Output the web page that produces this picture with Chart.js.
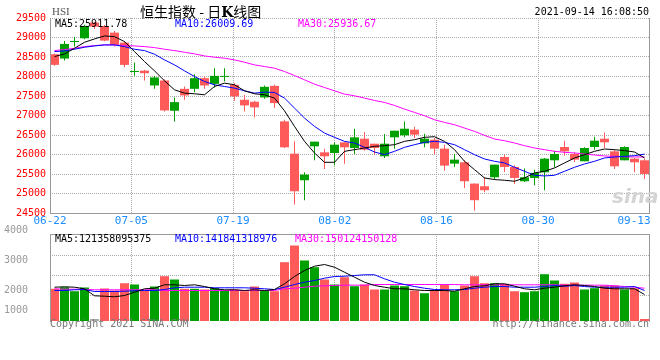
<!DOCTYPE html>
<html lang="zh-CN">
<head>
  <meta charset="UTF-8" />
  <title>恒生指数 - 日K线图</title>
  <script src="https://cdn.jsdelivr.net/npm/chart.js"></script>
  <style>
    body { margin: 0; background: #fff; }
    #wrap { position: relative; width: 660px; height: 360px; overflow: hidden;
            font-family: 'DejaVu Sans Mono', monospace; font-size: 10px; }
    canvas { position: absolute; left: 0; }
    #priceChart { top: 0; }
    #volChart { top: 220px; }
    .txt { position: absolute; white-space: nowrap; line-height: 12px; }
    #hsi { left: 52px; top: 5px; font: 11px 'Liberation Serif', serif; color: #555; }
    #title { left: 140px; top: 2px; font-size: 14px; line-height: 18px; color: #000;
             font-family: 'Noto Sans CJK SC', sans-serif; }
    #title b { font-family: 'DejaVu Serif', serif; }
    #time { right: 11px; top: 6px; color: #000; }
    .foot { top: 318px; color: #777; }
    #sina { left: 612px; top: 184px; font: italic bold 20px 'DejaVu Sans', sans-serif; color: #d4d4d4; }
  </style>
</head>
<body>
<div id="wrap">
  <canvas id="priceChart" width="660" height="232"></canvas>
  <canvas id="volChart" width="660" height="140"></canvas>
  <div class="txt" id="hsi">HSI</div>
  <div class="txt" id="title">恒生指数 - 日<b>K</b>线图</div>
  <div class="txt" id="time">2021-09-14 16:08:50</div>
  <div class="txt" id="sina">sina</div>
  <div class="txt" style="left:55px;top:18px;color:#000" id="pMa5"></div>
  <div class="txt" style="left:175px;top:18px;color:#0000ff" id="pMa10"></div>
  <div class="txt" style="left:298px;top:18px;color:#ff00ff" id="pMa30"></div>
  <div class="txt" style="left:55px;top:233px;color:#000" id="vMa5"></div>
  <div class="txt" style="left:175px;top:233px;color:#0000ff" id="vMa10"></div>
  <div class="txt" style="left:295px;top:233px;color:#ff00ff" id="vMa30"></div>
  <div class="txt foot" style="left:50px">Copyright 2021 SINA.COM</div>
  <div class="txt foot" style="right:11px">http://finance.sina.com.cn</div>
</div>

<script>
  // daily candles 06-22 .. 09-14 (60 trading days)
  const opens = [28571,28460,28885,28980,29381,29295,29125,28869,28115,28150,
    27770,27898,27122,27684,27684,27957,27812,27990,27787,27403,
    27352,27463,27760,26849,26022,25340,26210,26056,26039,26312,
    26167,26405,26277,25954,26440,26491,26636,26286,26380,26150,
    25766,25800,25254,25186,25416,25936,25680,25314,25399,25544,
    25851,26192,26013,25826,26192,26405,26081,25851,25894,25851];
  const closes = [28298,28835,28900,29295,29278,28920,28810,28298,28140,28085,
    27975,27130,27343,27514,27957,27770,28016,28005,27489,27258,
    27207,27735,27318,26184,25058,25485,26329,25954,26252,26184,
    26440,26124,26167,26277,26610,26661,26508,26405,26150,25714,
    25868,25314,24828,25084,25740,25680,25399,25416,25527,25894,
    26013,26081,25868,26167,26354,26312,25697,26192,25800,25502];
  const highs = [28588,28912,29014,29330,29400,29321,29167,28895,28358,28170,
    28016,27932,27463,27744,28059,28000,28213,28213,27830,27531,
    27378,27770,27787,26891,26337,25544,26329,26150,26312,26312,
    26661,26575,26277,26525,26610,26849,26712,26533,26422,26252,
    26013,25851,25254,25425,25740,25996,25723,25638,25612,25911,
    26099,26354,26056,26184,26456,26567,26124,26210,25911,25894];
  const lows = [28273,28409,28767,28955,29218,28903,28767,28238,28017,27900,
    27685,27105,26849,27403,27599,27684,27718,27872,27380,27105,
    26951,27429,27190,26167,24718,24829,25852,25630,25724,25766,
    26013,26099,25996,25911,26150,26440,26422,26184,26013,25587,
    25680,25144,24564,25033,25357,25552,25246,25297,25212,25084,
    25672,25970,25808,25826,26124,26167,25629,25851,25544,25374];

  const ma5 = [28511,28579,28724,28878,28963,29040,29022,28895,28639,28383,
    28145,27889,27659,27574,27557,27531,27744,27830,27787,27633,
    27557,27531,27446,27120,26721,26337,26039,25800,25800,26081,
    26124,26167,26210,26226,26252,26337,26380,26440,26456,26337,
    26124,25826,25612,25399,25357,25340,25314,25399,25527,25570,
    25655,25783,25911,25996,26081,26141,26124,26099,26064,25912];
  const ma10 = [28639,28656,28699,28750,28784,28810,28810,28767,28699,28665,
    28571,28426,28298,28145,28000,27872,27787,27744,27701,27633,
    27574,27599,27591,27446,27190,26934,26721,26550,26440,26337,
    26295,26184,26064,25996,26081,26184,26252,26312,26337,26312,
    26252,26124,25996,25885,25826,25783,25672,25570,25467,25450,
    25467,25570,25672,25757,25826,25911,25936,25953,25970,26010];
  const ma30 = [28665,28690,28724,28767,28793,28810,28810,28793,28784,28767,
    28741,28699,28665,28622,28580,28528,28494,28469,28426,28366,
    28298,28256,28213,28128,28025,27915,27804,27718,27633,27548,
    27505,27446,27386,27335,27258,27164,27079,26994,26891,26823,
    26763,26678,26593,26491,26397,26354,26295,26226,26167,26124,
    26081,26056,26039,26013,25987,25962,25953,25940,25937,25937];

  // turnover (100m HKD)
  const volume = [1546,1622,1430,1608,0,1560,1464,1814,1752,1464,
    1656,2150,1992,1546,1546,1512,1574,1464,1512,1430,
    1656,1464,1430,2822,3624,2904,2582,1992,1752,2102,
    1670,1752,1512,1512,1704,1670,1464,1334,1498,1738,
    1430,1704,2150,1814,1814,1786,1430,1382,1430,2246,
    1944,1786,1848,1512,1574,1704,1704,1512,1574,58];
  const volMa5 = [1622,1642,1622,1546,1210,1190,1162,1224,1382,1546,
    1574,1738,1738,1704,1738,1656,1546,1498,1498,1464,
    1498,1464,1512,1786,2136,2424,2630,2712,2582,2342,
    2102,1862,1704,1622,1546,1546,1498,1464,1464,1464,
    1430,1546,1656,1690,1786,1786,1670,1546,1498,1574,
    1622,1690,1738,1704,1656,1574,1546,1546,1546,1272];
  const volMa10 = [1464,1464,1498,1512,1416,1416,1416,1430,1450,1464,
    1464,1512,1594,1622,1622,1622,1594,1594,1594,1594,
    1574,1546,1512,1622,1752,1862,1944,2054,2136,2150,
    2184,2218,2218,2026,1862,1752,1656,1574,1512,1498,
    1498,1512,1574,1622,1656,1656,1622,1622,1622,1656,
    1704,1670,1704,1656,1622,1622,1622,1622,1656,1464];
  const volMa30 = [1546,1526,1526,1526,1498,1498,1498,1498,1498,1498,
    1498,1464,1464,1464,1464,1464,1464,1464,1464,1464,
    1464,1464,1464,1546,1574,1622,1670,1690,1704,1720,
    1720,1720,1752,1752,1752,1752,1752,1752,1752,1752,
    1752,1738,1738,1738,1738,1738,1738,1738,1738,1738,
    1738,1720,1720,1720,1720,1720,1690,1656,1622,1574];

  const tickLabels = ['06-22', '07-05', '07-19', '08-02', '08-16', '08-30', '09-13'];
  const tickIdx = [0, 8, 18, 28, 38, 48, 58];
  const volTickLabels = [1000, 2000, 3000, 4000];
  const volGrid = [1248, 2208, 3168];
  const priceMaNow = ['25911.78', '26009.69', '25936.67'];
  const volMaNow = ['121358095375', '141841318976', '150124150128'];

  const UP = '#00a000';
  const DOWN = '#ff5a5a';
  const GRID = '#aaaaaa';
  const DOTS = [1, 1];
  const n = closes.length;
  const xMin = -0.45, xMax = n - 0.45;

  Chart.defaults.font.family = "'DejaVu Sans Mono', monospace";
  Chart.defaults.font.size = 10;
  Chart.defaults.animation = false;
  Chart.defaults.plugins.legend.display = false;
  Chart.defaults.plugins.tooltip.enabled = false;

  ['pMa5', 'pMa10', 'pMa30'].forEach((id, j) => {
    document.getElementById(id).textContent = 'MA' + [5, 10, 30][j] + ':' + priceMaNow[j];
  });
  ['vMa5', 'vMa10', 'vMa30'].forEach((id, j) => {
    document.getElementById(id).textContent = 'MA' + [5, 10, 30][j] + ':' + volMaNow[j];
  });

  const candleColor = closes.map((c, i) => c >= opens[i] ? UP : DOWN);
  const volColor = volume.map((v, i) => v === 0 ? '#aaaaaa' : candleColor[i]);

  function pts(arr) {
    return arr.map((v, i) => ({ x: i, y: v }));
  }

  function lineSet(data, color) {
    return { type: 'line', data: pts(data), borderColor: color, borderWidth: 1,
             pointRadius: 0, tension: 0, order: 0, yAxisID: 'y' };
  }

  // solid frame around the plot area
  const framePlugin = {
    id: 'frame',
    afterDatasetsDraw(chart, args, opts) {
      const { ctx, chartArea: a } = chart;
      const l = Math.round(a.left) + 0.5, r = Math.round(a.right) - 0.5;
      ctx.save();
      ctx.strokeStyle = '#999';
      ctx.lineWidth = 1;
      ctx.beginPath();
      ctx.moveTo(l, a.top); ctx.lineTo(l, a.bottom + 1);
      ctx.moveTo(r, a.top); ctx.lineTo(r, a.bottom + 1);
      if (opts.top) { const t = Math.round(a.top) + 0.5; ctx.moveTo(l, t); ctx.lineTo(r, t); }
      if (opts.bottom) { const b = Math.round(a.bottom) + 0.5; ctx.moveTo(l, b); ctx.lineTo(r + 0.5, b); }
      ctx.stroke();
      ctx.restore();
    }
  };

  function xAxis(showLabels) {
    return {
      type: 'linear', min: xMin, max: xMax, offset: false,
      grid: { offset: false, drawTicks: false,
              color: c => c.index === tickIdx.length - 1 ? 'rgba(0,0,0,0)' : GRID },
      border: { display: false, dash: DOTS },
      afterBuildTicks: s => {
        // sina spreads the date marks over n-1 steps, last one kept inside
        s.ticks = tickIdx.map(k => ({ value: Math.min(xMin + k * (xMax - xMin) / (n - 1), xMax - 1.6) }));
      },
      ticks: { display: showLabels, autoSkip: false, maxRotation: 0, padding: 2,
               color: '#1a8cff', font: { size: 11 }, callback: (v, i) => tickLabels[i] },
      afterFit: s => { s.height = showLabels ? 19 : 39; }
    };
  }

  const barBase = { type: 'bar', grouped: false, borderWidth: 0, borderSkipped: false,
                    inflateAmount: 0, yAxisID: 'y' };

  new Chart(document.getElementById('priceChart'), {
    type: 'bar',
    data: {
      datasets: [
        lineSet(ma5, '#000000'),
        lineSet(ma10, '#0000ff'),
        lineSet(ma30, '#ff00ff'),
        Object.assign({}, barBase, {
          data: opens.map((o, i) => ({ x: i, y: [o, closes[i]] })),
          backgroundColor: candleColor, barThickness: 9, minBarLength: 1, order: 1
        }),
        Object.assign({}, barBase, {
          data: lows.map((l, i) => ({ x: i, y: [l, highs[i]] })),
          backgroundColor: candleColor, barThickness: 1, order: 2
        })
      ]
    },
    options: {
      responsive: false,
      devicePixelRatio: 1,
      layout: { padding: { top: 18, right: 10, left: 0, bottom: 0 } },
      plugins: { frame: { top: false, bottom: true } },
      scales: {
        x: xAxis(true),
        y: {
          min: 24500, max: 29500,
          ticks: { stepSize: 500, color: '#ff0000', padding: 4, font: { size: 10 },
                   callback: v => String(v) },
          grid: { color: GRID, drawTicks: false },
          border: { display: false, dash: DOTS },
          afterFit: s => { s.width = 50; }
        }
      }
    },
    plugins: [framePlugin]
  });

  new Chart(document.getElementById('volChart'), {
    type: 'bar',
    data: {
      datasets: [
        lineSet(volMa5, '#000000'),
        lineSet(volMa10, '#0000ff'),
        lineSet(volMa30, '#ff00ff'),
        Object.assign({}, barBase, {
          data: pts(volume), backgroundColor: volColor,
          barThickness: 9, minBarLength: 2, order: 1
        })
      ]
    },
    options: {
      responsive: false,
      devicePixelRatio: 1,
      layout: { padding: { top: 14, right: 0, left: 0, bottom: 0 } },
      plugins: { frame: { top: true, bottom: false } },
      scales: {
        x: xAxis(false),
        y: {
          position: 'right', min: 0, max: 4176,
          grid: { color: GRID, drawTicks: false },
          border: { display: false, dash: DOTS },
          afterBuildTicks: s => { s.ticks = volGrid.map(v => ({ value: v })); },
          ticks: { display: false },
          afterFit: s => { s.width = 10; s.paddingTop = 0; s.paddingBottom = 0; }
        },
        yl: {
          position: 'left', min: 1000, max: 3880,
          grid: { display: false, drawTicks: false },
          border: { display: false },
          afterBuildTicks: s => {
            // lowest label is kept clear of the bottom edge
            s.ticks = volTickLabels.map(v => ({ value: Math.max(v, s.min + (s.max - s.min) * 0.125) }));
          },
          ticks: { autoSkip: false, color: '#999', padding: 22, font: { size: 10 },
                   callback: (v, i) => String(volTickLabels[i]) },
          afterFit: s => { s.width = 50; s.paddingTop = 0; s.paddingBottom = 0; }
        }
      }
    },
    plugins: [framePlugin]
  });
</script>
</body>
</html>
